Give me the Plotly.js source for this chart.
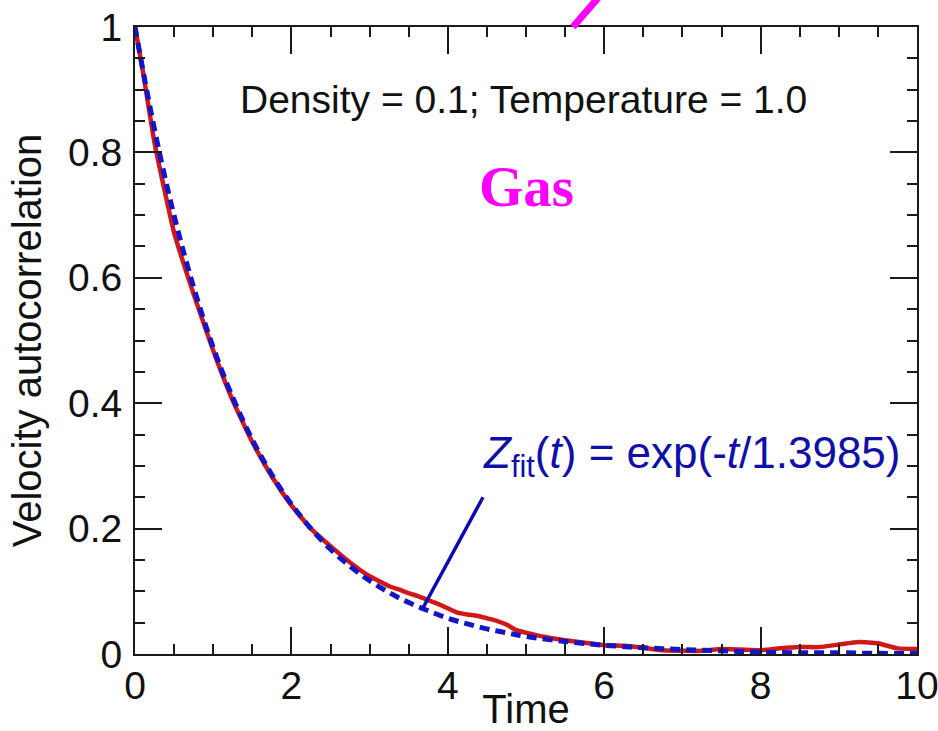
<!DOCTYPE html>
<html>
<head>
<meta charset="utf-8">
<script src="https://cdn.plot.ly/plotly-3.0.1.min.js"></script>
<style>html,body{margin:0;padding:0;background:#fff;}#chart{width:938px;height:731px;}</style>
</head>
<body>
<div id="chart"></div>
<script>
// Simulated velocity autocorrelation (red, solid)
const simTime = [0, 0.1, 0.25, 0.5, 0.75, 1.0, 1.25, 1.5, 1.75, 2.0, 2.25, 2.5, 2.75, 3.0, 3.125, 3.25, 3.375, 3.5, 3.625, 3.75, 3.875, 4.0, 4.125, 4.25, 4.375, 4.5, 4.625, 4.75, 4.875, 5.0, 5.25, 5.5, 5.75, 6.0, 6.25, 6.5, 6.75, 7.0, 7.25, 7.5, 7.75, 8.0, 8.25, 8.5, 8.75, 9.0, 9.25, 9.5, 9.75, 10.0];
const simVacf = [1.0, 0.93, 0.815, 0.672, 0.574, 0.484, 0.404, 0.338, 0.283, 0.237, 0.200, 0.172, 0.146, 0.124, 0.116, 0.108, 0.103, 0.097, 0.092, 0.086, 0.080, 0.073, 0.066, 0.063, 0.061, 0.057, 0.053, 0.047, 0.038, 0.034, 0.027, 0.022, 0.018, 0.014, 0.013, 0.010, 0.006, 0.005, 0.005, 0.008, 0.007, 0.006, 0.009, 0.011, 0.011, 0.015, 0.019, 0.017, 0.009, 0.008];

// Exponential fit Z_fit(t) (blue, dashed) values
const fitTime = [0, 0.25, 0.5, 0.75, 1.0, 1.25, 1.5, 1.75, 2.0, 2.25, 2.5, 2.75, 3.0, 3.25, 3.5, 3.75, 4.0, 4.25, 4.5, 4.75, 5.0, 5.5, 6.0, 6.5, 7.0, 7.5, 8.0, 8.5, 9.0, 9.5, 10.0];
const fitVacf = [1.0, 0.836, 0.699, 0.585, 0.489, 0.409, 0.342, 0.286, 0.239, 0.200, 0.167, 0.140, 0.117, 0.098, 0.082, 0.069, 0.057, 0.048, 0.040, 0.034, 0.028, 0.020, 0.014, 0.010, 0.007, 0.005, 0.003, 0.002, 0.002, 0.001, 0.001];

const xTickVals = [0, 2, 4, 6, 8, 10];
const yTickVals = [0, 0.2, 0.4, 0.6, 0.8, 1];

const infoText = "Density = 0.1; Temperature = 1.0";
const phaseText = "Gas";
const fitLabel = "<i>Z</i><sub>fit</sub>(<i>t</i>) = exp(-<i>t</i>/1.3985)";
const fitPointer = {x0: 4.45, y0: 0.250, x1: 3.68, y1: 0.073};

const font = "Liberation Sans, Arial, Helvetica, sans-serif";
const axisColor = "#1a1a1a";

const traces = [
  {
    x: simTime, y: simVacf, type: "scatter", mode: "lines",
    line: {color: "#d01818", width: 4.5, shape: "spline", smoothing: 0.4},
    hoverinfo: "skip"
  },
  {
    x: fitTime, y: fitVacf, type: "scatter", mode: "lines",
    line: {color: "#1515c8", width: 5, dash: "10px,6px", shape: "spline"},
    hoverinfo: "skip"
  }
];

const axisCommon = {
  showline: true, linecolor: axisColor, linewidth: 2,
  mirror: "allticks", ticks: "inside", tickcolor: axisColor, tickwidth: 2, ticklen: 27,
  showgrid: false, zeroline: false, automargin: false,
  ticklabeloverflow: "allow",
  tickfont: {family: font, size: 39, color: "#111"}
};

const layout = {
  width: 938, height: 731,
  margin: {l: 135, r: 21, t: 27, b: 77},
  paper_bgcolor: "#fff", plot_bgcolor: "#fff",
  showlegend: false,
  xaxis: Object.assign({}, axisCommon, {
    range: [0, 10], tickvals: xTickVals,
    minor: {dtick: 0.5, ticks: "inside", ticklen: 10, tickwidth: 2, tickcolor: axisColor, showgrid: false},
    ticklabelstandoff: -4,
    title: {text: "Time", font: {family: font, size: 40, color: "#111"}, standoff: 0}
  }),
  yaxis: Object.assign({}, axisCommon, {
    range: [0, 1], tickvals: yTickVals,
    minor: {dtick: 0.05, ticks: "inside", ticklen: 10, tickwidth: 2, tickcolor: axisColor, showgrid: false},
    ticklabelstandoff: 3,
    title: {text: "Velocity autocorrelation", font: {family: font, size: 40, color: "#111"}, standoff: 14}
  }),
  annotations: [
    {x: 0.497, y: 0.885, xref: "paper", yref: "paper", text: infoText, showarrow: false,
     font: {family: font, size: 39, color: "#111"}, xanchor: "center", yanchor: "middle"},
    {x: 0.5, y: 0.745, xref: "paper", yref: "paper", text: "<b>" + phaseText + "</b>", showarrow: false,
     font: {family: "Liberation Serif, Times New Roman, serif", size: 57, color: "#ff00ff"}, xanchor: "center", yanchor: "middle"},
    {x: 4.43, y: 0.316, xref: "x", yref: "y", text: fitLabel, showarrow: false,
     font: {family: font, size: 44, color: "#1010a8"}, xanchor: "left", yanchor: "middle"}
  ],
  shapes: [
    {type: "line", xref: "x", yref: "y", x0: fitPointer.x0, y0: fitPointer.y0, x1: fitPointer.x1, y1: fitPointer.y1,
     line: {color: "#0a0ab0", width: 3.5}},
    {type: "line", xref: "paper", yref: "paper", x0: 0.560, y0: 1.0, x1: 0.612, y1: 1.075,
     line: {color: "#ff00ff", width: 7}}
  ]
};

Plotly.newPlot("chart", traces, layout, {displayModeBar: false, staticPlot: true});
</script>
</body>
</html>
